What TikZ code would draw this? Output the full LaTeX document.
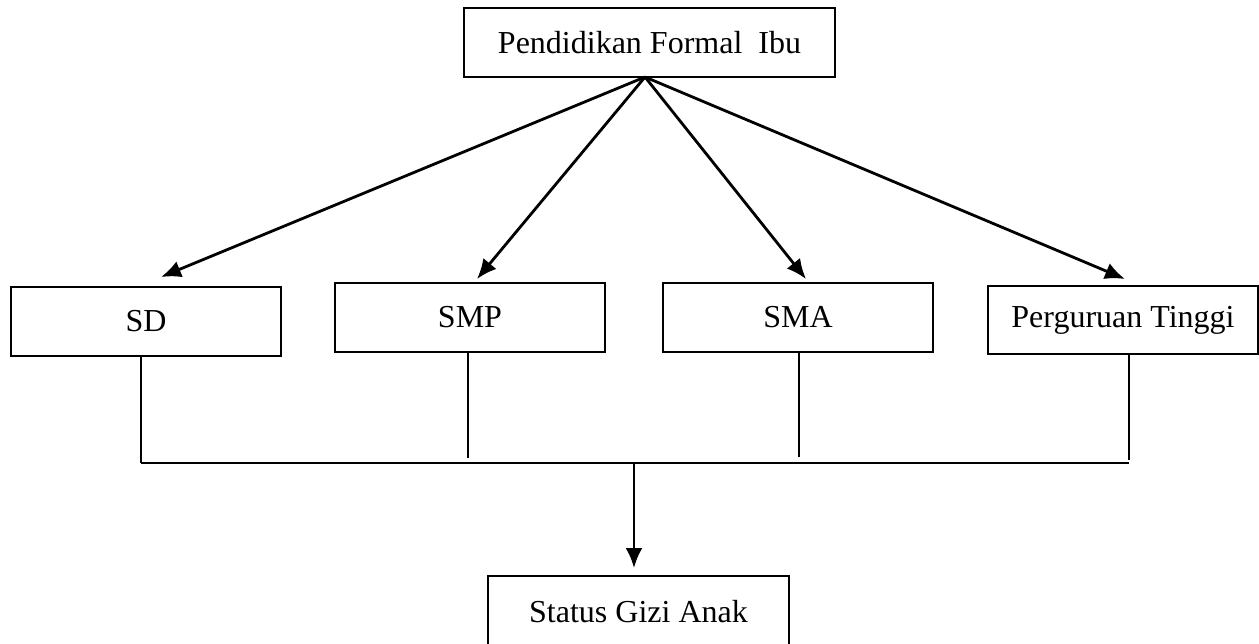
\documentclass[tikz,border=0pt]{standalone}
\usepackage{fontspec}
\setmainfont{Liberation Serif}
\usetikzlibrary{arrows.meta}
\begin{document}
\begin{tikzpicture}[x=1pt,y=-1pt,
  box/.style={draw, line width=1.6pt, inner sep=0pt, font=\fontsize{32}{38}\selectfont},
  arr/.style={line width=2.8pt, -{Latex[length=20pt,width=17pt]}},
  thin/.style={line width=1.2pt}]
\clip (0,0) rectangle (1259,643);
\fill[white] (0,0) rectangle (1259,643);
\node[box, minimum width=371pt, minimum height=69pt] (top) at (649.5,42.5) {Pendidikan Formal \ Ibu};
\node[box, minimum width=270pt, minimum height=69pt] (sd) at (146,321.5) {SD};
\node[box, minimum width=270pt, minimum height=69pt] (smp) at (470,317.5) {SMP};
\node[box, minimum width=270pt, minimum height=69pt] (sma) at (798,317.5) {SMA};
\node[box, minimum width=270pt, minimum height=68pt] (pt) at (1123,320) {Perguruan Tinggi};
\node[box, minimum width=301pt, minimum height=72pt] (gizi) at (638.5,612) {Status Gizi Anak};
\coordinate (apex) at (645,77);
\coordinate (tsd) at (161,277);
\coordinate (tsmp) at (477,279);
\coordinate (tsma) at (806,279);
\coordinate (tpt) at (1125,279);
\draw[arr] (apex) -- (tsd);
\draw[arr] (apex) -- (tsmp);
\draw[arr] (apex) -- (tsma);
\draw[arr] (apex) -- (tpt);
\coordinate (busl) at (141,463);
\coordinate (busr) at (1129,463);
\coordinate (busm) at (634,463);
\coordinate (tgizi) at (634,568);
\draw[thin] (busl) -- (busr);
\draw[thin] (sd.south -| busl) -- (busl);
\draw[thin] (smp.south -| 468,0) -- (468,458);
\draw[thin] (sma.south -| 799,0) -- (799,457);
\draw[thin] (pt.south -| busr) -- (1129,460);
\draw[arr] (busm) -- (tgizi);
\end{tikzpicture}
\end{document}
